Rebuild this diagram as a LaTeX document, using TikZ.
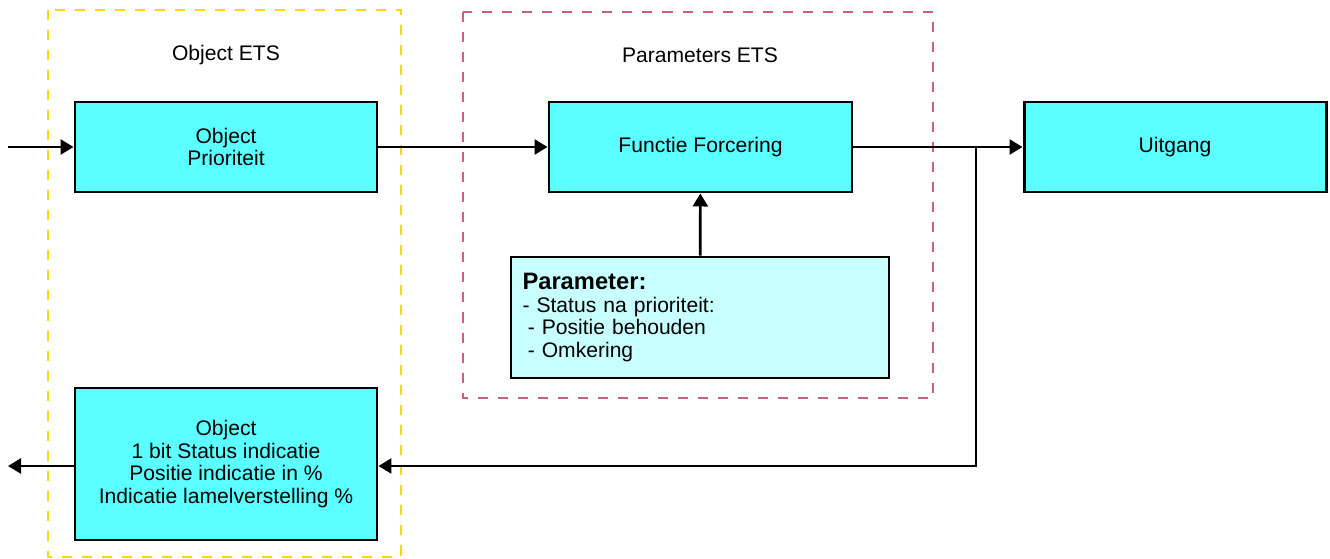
\documentclass[tikz,border=0pt]{standalone}
\usepackage{fontspec}
\setmainfont{Liberation Sans}
\usetikzlibrary{arrows.meta}

\definecolor{blokcyaan}{HTML}{5CFFFF}
\definecolor{lichtcyaan}{HTML}{C8FFFF}
\definecolor{etsgeel}{HTML}{FFD700}
\definecolor{etsroze}{HTML}{CC5C88}

\tikzset{
    blok/.style={draw=black, line width=1.7pt, fill=blokcyaan, align=center,
        minimum width=6.04cm, minimum height=1.8cm, inner sep=2pt},
    pijl/.style={line width=1.5pt, -{Triangle[length=0.26cm, width=0.3cm]}},
    etskader/.style={line width=1.5pt, dash pattern=on 5.7pt off 5.7pt}
}

\begin{document}
\begin{tikzpicture}[font=\fontsize{12}{13}\selectfont]

    % Canvas
    \useasboundingbox (0, 0) rectangle (26.6, -11.18);

    % ETS frames
    \draw[etskader, etsgeel] (0.96, -0.2) rectangle (8.02, -11.14);
    \draw[etskader, etsroze] (9.26, -0.24) rectangle (18.66, -7.96);
    \node (objets) at (4.52, -1.1) {Object ETS};
    \node (parets) at (14.0, -1.1) {Parameters ETS};

    % Blocks
    \node[blok] (prio) at (4.52, -2.94) {Object\\Prioriteit};
    \node[blok, minimum width=6.06cm] (forcering) at (14.01, -2.94) {Functie Forcering};
    \node[blok] (uitgang) at (23.5, -2.94) {Uitgang};
    \node[blok, minimum height=3.04cm] (status) at (4.52, -9.28)
        {Object\\1 bit Status indicatie\\Positie indicatie in \%\\Indicatie lamelverstelling \%};

    % Parameter block
    \node[blok, fill=lichtcyaan, minimum width=7.56cm, minimum height=2.42cm,
        text width=7.1cm, align=left, inner sep=0.2cm] (param) at (14.0, -6.35)
        {{\fontsize{13.5}{17}\selectfont\bfseries Parameter:}\\
         - Status na prioriteit:\\
         \hspace{0.25em}- Positie behouden\\
         \hspace{0.25em}- Omkering};

    % Connections
    \coordinate (ingang) at (0.16, -2.94);
    \coordinate (uit) at (0.16, -9.32);
    \coordinate (splits) at (19.52, -2.94);
    \draw[pijl] (ingang) -- (prio);
    \draw[pijl] (prio) -- (forcering);
    \draw[pijl] (forcering) -- (uitgang);
    \draw[pijl] (param) -- (forcering);
    \draw[pijl] (splits) |- (status.east |- uit);
    \draw[pijl] (status.west |- uit) -- (uit);

\end{tikzpicture}
\end{document}
